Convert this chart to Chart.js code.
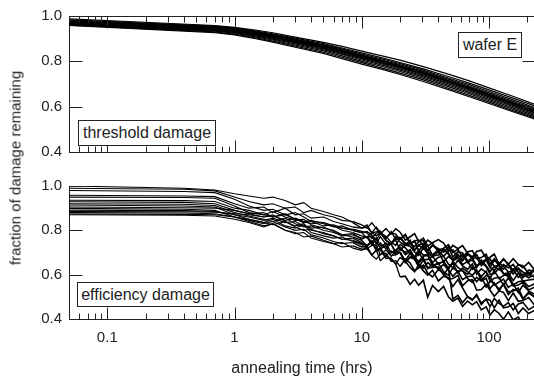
<!DOCTYPE html>
<html>
<head>
<meta charset="utf-8">
<script src="https://cdn.jsdelivr.net/npm/chart.js@4.4.1/dist/chart.umd.min.js"></script>
<style>
  html, body { margin: 0; padding: 0; background: #fff; }
  body { width: 534px; height: 382px; overflow: hidden; position: relative; font-family: 'Liberation Sans', Arial, sans-serif; color: #222; }
  #wrap { position: absolute; left: 0; top: 0; width: 540px; height: 382px; }
  canvas { position: absolute; left: 0; }
  .box { position: absolute; box-sizing: border-box; border: 1px solid #222; background: #fff; font-size: 16px; text-align: center; white-space: nowrap; }
  #ytitle { position: absolute; left: 15px; top: 168px; transform: translate(-50%, -50%) rotate(-90deg); font-size: 15px; white-space: nowrap; }
</style>
</head>
<body>
<div id="wrap">
  <canvas id="c1" width="540" height="170" style="top:0px"></canvas>
  <canvas id="c2" width="540" height="212" style="top:170px"></canvas>
  <div class="box" style="left:78px;top:120px;width:138px;height:26px;line-height:24px;">threshold damage</div>
  <div class="box" style="left:458px;top:32px;width:64px;height:26px;line-height:24px;">wafer E</div>
  <div class="box" style="left:77px;top:282px;width:137px;height:25px;line-height:23px;">efficiency damage</div>
  <div id="ytitle">fraction of damage remaining</div>
</div>
<script>
// ---------- axis settings ----------
const X_MIN = 0.05, X_MAX = 230;
const xTickValues = [0.1, 1, 10, 100];
const yTickValues = [0.4, 0.6, 0.8, 1.0];

// ---------- top panel: threshold damage ----------
const hoursTop = [0.05, 0.7, 1, 1.5, 2, 3, 5, 7, 10, 15, 20, 30, 50, 70, 100, 150, 230];
const thr01 = [0.987,0.958,0.950,0.937,0.926,0.907,0.884,0.866,0.845,0.822,0.805,0.778,0.740,0.714,0.683,0.648,0.610];
const thr02 = [0.983,0.955,0.948,0.933,0.921,0.902,0.878,0.859,0.837,0.813,0.795,0.768,0.730,0.704,0.674,0.640,0.603];
const thr03 = [0.980,0.953,0.945,0.930,0.918,0.898,0.874,0.855,0.832,0.808,0.790,0.762,0.723,0.697,0.667,0.632,0.596];
const thr04 = [0.978,0.951,0.943,0.928,0.916,0.896,0.871,0.851,0.828,0.803,0.785,0.757,0.718,0.691,0.661,0.626,0.590];
const thr05 = [0.976,0.949,0.941,0.926,0.914,0.893,0.868,0.848,0.825,0.800,0.781,0.753,0.713,0.686,0.656,0.621,0.585];
const thr06 = [0.974,0.947,0.939,0.924,0.911,0.891,0.866,0.846,0.823,0.798,0.779,0.751,0.711,0.684,0.653,0.618,0.582];
const thr07 = [0.972,0.945,0.937,0.922,0.910,0.889,0.864,0.844,0.821,0.796,0.777,0.749,0.709,0.681,0.650,0.615,0.579];
const thr08 = [0.970,0.943,0.935,0.920,0.907,0.887,0.862,0.841,0.818,0.793,0.774,0.746,0.706,0.678,0.647,0.612,0.575];
const thr09 = [0.968,0.941,0.932,0.917,0.905,0.884,0.859,0.838,0.815,0.790,0.771,0.742,0.702,0.674,0.643,0.608,0.571];
const thr10 = [0.966,0.938,0.930,0.914,0.902,0.881,0.855,0.834,0.811,0.786,0.766,0.737,0.697,0.669,0.638,0.603,0.566];
const thr11 = [0.964,0.936,0.927,0.911,0.898,0.877,0.851,0.830,0.806,0.781,0.761,0.732,0.691,0.663,0.632,0.597,0.560];
const thr12 = [0.962,0.933,0.924,0.907,0.894,0.872,0.846,0.824,0.800,0.775,0.755,0.726,0.685,0.657,0.626,0.591,0.555];
const thr13 = [0.960,0.930,0.920,0.903,0.889,0.867,0.840,0.818,0.794,0.768,0.748,0.719,0.678,0.650,0.620,0.585,0.550];
const thr14 = [0.958,0.927,0.917,0.899,0.885,0.862,0.835,0.812,0.788,0.762,0.742,0.712,0.672,0.644,0.614,0.580,0.545];
const thresholdSeries = [thr01,thr02,thr03,thr04,thr05,thr06,thr07,thr08,thr09,thr10,thr11,thr12,thr13,thr14];

// ---------- bottom panel: efficiency damage ----------
const hoursBot = [0.05, 0.4, 0.7, 1, 1.3, 1.7, 2, 2.5, 3, 3.5, 4, 5, 6, 7, 8.5, 10,
  11, 12, 13, 14, 15.5, 17, 18.5, 20, 22, 24, 26, 28, 30.5, 33, 36, 40, 44, 48, 52, 57,
  62, 68, 74, 80, 87, 95, 102, 110, 120, 130, 142, 155, 170, 185, 205, 230];
const effA = [1.000,0.990,0.982,0.965,0.955,0.945,0.950,0.935,0.915,0.925,0.900,0.885,0.870,0.860,0.835,0.810,
  0.815,0.789,0.814,0.789,0.764,0.788,0.783,0.758,0.782,0.737,0.752,0.756,0.731,0.756,0.740,0.705,0.720,0.735,0.699,0.714,
  0.679,0.703,0.708,0.673,0.677,0.692,0.647,0.672,0.646,0.671,0.646,0.620,0.645,0.640,0.604,0.629];
const effB = [0.990,0.985,0.978,0.950,0.930,0.915,0.920,0.900,0.905,0.880,0.890,0.870,0.860,0.845,0.840,0.825,
  0.810,0.834,0.809,0.783,0.808,0.782,0.807,0.792,0.756,0.771,0.785,0.750,0.765,0.729,0.744,0.758,0.743,0.707,0.732,0.717,
  0.731,0.696,0.680,0.705,0.710,0.674,0.679,0.693,0.648,0.672,0.647,0.672,0.646,0.631,0.655,0.620];
const effC = [0.980,0.975,0.970,0.940,0.910,0.890,0.895,0.870,0.880,0.860,0.840,0.835,0.820,0.800,0.790,0.775,
  0.769,0.774,0.738,0.772,0.737,0.741,0.755,0.709,0.734,0.728,0.702,0.687,0.721,0.695,0.680,0.704,0.658,0.682,0.667,0.681,
  0.645,0.660,0.624,0.638,0.653,0.637,0.601,0.605,0.630,0.604,0.608,0.573,0.607,0.571,0.576,0.580];
const effD = [0.958,0.955,0.952,0.920,0.900,0.905,0.880,0.900,0.870,0.875,0.855,0.860,0.840,0.830,0.815,0.810,
  0.824,0.788,0.793,0.797,0.761,0.795,0.759,0.763,0.778,0.742,0.726,0.750,0.754,0.708,0.733,0.717,0.701,0.725,0.679,0.703,
  0.698,0.662,0.676,0.690,0.654,0.668,0.633,0.667,0.641,0.625,0.649,0.603,0.628,0.612,0.596,0.620];
const effE = [0.950,0.948,0.945,0.910,0.880,0.870,0.885,0.860,0.845,0.850,0.825,0.810,0.800,0.780,0.770,0.755,
  0.729,0.753,0.747,0.721,0.744,0.698,0.712,0.726,0.690,0.704,0.668,0.702,0.666,0.669,0.683,0.647,0.661,0.625,0.659,0.633,
  0.617,0.601,0.634,0.618,0.592,0.616,0.570,0.584,0.588,0.552,0.586,0.549,0.553,0.567,0.531,0.545];
const effF = [0.936,0.934,0.930,0.900,0.890,0.870,0.860,0.875,0.850,0.840,0.845,0.830,0.815,0.820,0.800,0.790,
  0.795,0.779,0.754,0.788,0.773,0.747,0.732,0.767,0.741,0.746,0.710,0.735,0.740,0.704,0.689,0.713,0.718,0.692,0.667,0.692,
  0.666,0.691,0.675,0.640,0.655,0.669,0.634,0.618,0.653,0.638,0.612,0.617,0.631,0.586,0.610,0.585];
const effG = [0.929,0.926,0.920,0.890,0.875,0.860,0.870,0.840,0.820,0.830,0.800,0.790,0.775,0.760,0.755,0.740,
  0.733,0.746,0.708,0.721,0.684,0.707,0.690,0.702,0.655,0.678,0.671,0.634,0.666,0.629,0.632,0.635,0.598,0.630,0.490,0.507,
  0.474,0.501,0.488,0.505,0.472,0.489,0.456,0.493,0.470,0.457,0.474,0.441,0.468,0.475,0.442,0.459];
const effH = [0.920,0.918,0.912,0.880,0.865,0.850,0.840,0.855,0.830,0.815,0.820,0.800,0.790,0.775,0.780,0.765,
  0.769,0.733,0.767,0.731,0.735,0.739,0.703,0.737,0.721,0.695,0.679,0.713,0.687,0.691,0.655,0.679,0.683,0.647,0.632,0.666,
  0.640,0.624,0.648,0.602,0.626,0.610,0.584,0.618,0.582,0.596,0.600,0.554,0.568,0.572,0.546,0.560];
const effI = [0.914,0.910,0.905,0.870,0.850,0.835,0.850,0.820,0.810,0.825,0.790,0.775,0.765,0.770,0.750,0.735,
  0.718,0.732,0.735,0.689,0.712,0.686,0.689,0.703,0.656,0.680,0.683,0.647,0.630,0.654,0.637,0.651,0.614,0.597,0.631,0.614,
  0.578,0.591,0.595,0.568,0.592,0.545,0.569,0.562,0.526,0.559,0.522,0.526,0.539,0.493,0.516,0.500];
const effJ = [0.905,0.902,0.900,0.890,0.875,0.880,0.860,0.870,0.850,0.835,0.840,0.820,0.825,0.810,0.805,0.795,
  0.789,0.763,0.787,0.791,0.755,0.739,0.773,0.747,0.731,0.755,0.709,0.733,0.717,0.731,0.685,0.689,0.713,0.698,0.662,0.676,
  0.690,0.654,0.668,0.632,0.666,0.640,0.614,0.638,0.642,0.606,0.590,0.624,0.588,0.602,0.586,0.600];
const effK = [0.899,0.895,0.890,0.860,0.840,0.820,0.830,0.800,0.785,0.790,0.765,0.750,0.740,0.725,0.730,0.715,
  0.717,0.689,0.711,0.663,0.685,0.667,0.649,0.590,0.593,0.556,0.579,0.552,0.575,0.498,0.551,0.524,0.547,0.500,0.480,0.494,
  0.457,0.481,0.464,0.478,0.441,0.455,0.418,0.442,0.425,0.399,0.432,0.396,0.409,0.373,0.396,0.380];
const effL = [0.891,0.889,0.885,0.870,0.860,0.845,0.855,0.835,0.840,0.820,0.810,0.815,0.795,0.780,0.785,0.760,
  0.773,0.747,0.720,0.743,0.717,0.740,0.693,0.717,0.700,0.713,0.677,0.660,0.683,0.687,0.640,0.653,0.657,0.630,0.653,0.607,
  0.630,0.613,0.597,0.620,0.573,0.597,0.590,0.553,0.567,0.580,0.543,0.557,0.520,0.553,0.527,0.510];
const effM = [0.885,0.884,0.882,0.875,0.870,0.860,0.865,0.845,0.855,0.840,0.830,0.835,0.820,0.810,0.800,0.790,
  0.765,0.790,0.775,0.789,0.754,0.739,0.764,0.769,0.734,0.739,0.753,0.708,0.733,0.708,0.733,0.708,0.683,0.707,0.712,0.677,
  0.662,0.697,0.672,0.677,0.641,0.666,0.671,0.636,0.621,0.646,0.631,0.646,0.610,0.595,0.620,0.615];
const effN = [0.880,0.878,0.875,0.860,0.845,0.830,0.840,0.815,0.800,0.805,0.780,0.765,0.750,0.740,0.745,0.725,
  0.727,0.688,0.710,0.712,0.673,0.675,0.647,0.678,0.660,0.632,0.613,0.645,0.617,0.598,0.620,0.572,0.593,0.585,0.547,0.578,
  0.540,0.500,0.485,0.510,0.465,0.490,0.485,0.450,0.485,0.450,0.455,0.470,0.425,0.450,0.425,0.440];
const effO = [0.874,0.872,0.870,0.860,0.850,0.835,0.825,0.840,0.815,0.800,0.805,0.785,0.775,0.760,0.765,0.745,
  0.728,0.751,0.714,0.717,0.730,0.683,0.706,0.699,0.663,0.696,0.669,0.652,0.675,0.628,0.651,0.624,0.647,0.620,0.593,0.616,
  0.619,0.582,0.565,0.588,0.571,0.584,0.537,0.561,0.534,0.557,0.510,0.533,0.526,0.489,0.522,0.495];
const effP = [0.870,0.868,0.865,0.850,0.835,0.815,0.830,0.800,0.790,0.770,0.775,0.755,0.740,0.745,0.720,0.710,
  0.723,0.687,0.670,0.693,0.697,0.660,0.663,0.637,0.670,0.653,0.617,0.630,0.643,0.607,0.590,0.623,0.607,0.580,0.583,0.597,
  0.550,0.573,0.577,0.530,0.533,0.557,0.530,0.503,0.527,0.520,0.483,0.517,0.480,0.483,0.497,0.460];
const efficiencySeries = [effA,effB,effC,effD,effE,effF,effG,effH,effI,effJ,effK,effL,effM,effN,effO,effP];

// ---------- chart helpers ----------
Chart.defaults.font.family = "'Liberation Sans', Arial, sans-serif";
Chart.defaults.color = '#222';

const minorTickValues = [];
[0.01, 0.1, 1, 10, 100].forEach(d => { for (let m = 2; m <= 9; m++) { const v = +(d * m).toPrecision(3); if (v >= X_MIN && v <= X_MAX) minorTickValues.push(v); } });

const frameTicks = {
  id: 'frameTicks',
  afterDraw(chart, args, opts) {
    const {ctx, chartArea: a, scales: {x, y}} = chart;
    const topY = Math.round(a.top) + 0.5, botY = Math.floor(a.bottom) + 0.5;
    const leftX = Math.floor(a.left) + 0.5, rightX = Math.round(a.right) - 0.5;
    ctx.save();
    ctx.strokeStyle = '#222';
    ctx.lineWidth = 1;
    ctx.beginPath();
    if (opts.top) { ctx.moveTo(a.left, topY); ctx.lineTo(a.right, topY); }
    const xt = (v, len) => {
      const px = Math.round(x.getPixelForValue(v)) + 0.5;
      ctx.moveTo(px, botY); ctx.lineTo(px, botY - len);
      if (opts.top) { ctx.moveTo(px, topY); ctx.lineTo(px, topY + len); }
    };
    xTickValues.forEach(v => xt(v, 12));
    minorTickValues.forEach(v => xt(v, 6));
    yTickValues.forEach(v => {
      const py = Math.round(y.getPixelForValue(v)) + 0.5;
      ctx.moveTo(leftX, py); ctx.lineTo(leftX + 13, py);
      ctx.moveTo(rightX, py); ctx.lineTo(rightX - 12, py);
    });
    ctx.stroke();
    ctx.restore();
  }
};

function makeDatasets(hours, seriesList, width, lateWidth) {
  return seriesList.map(vals => ({
    data: vals.map((v, i) => ({x: hours[i], y: v})),
    borderColor: '#000',
    borderWidth: width,
    segment: lateWidth ? {borderWidth: c => (c.p0.parsed.x >= 20 ? lateWidth : (c.p0.parsed.x >= 8 ? (width + lateWidth) / 2 : width))} : undefined,
    pointRadius: 0,
    fill: false,
    tension: 0
  }));
}

function makeOptions(showXLabels, xAxisHeight, padTop, drawTop) {
  return {
    responsive: false,
    animation: false,
    layout: {padding: {top: padTop, right: 5, left: 0, bottom: 0}},
    plugins: {legend: {display: false}, tooltip: {enabled: false}, frameTicks: {top: drawTop}},
    scales: {
      x: {
        type: 'logarithmic', min: X_MIN, max: X_MAX, bounds: 'data',
        afterBuildTicks: s => { s.ticks = xTickValues.map(v => ({value: v})); },
        ticks: {display: showXLabels, autoSkip: false, maxRotation: 0, padding: 10, font: {size: 15}, color: '#222', callback: v => String(v)},
        grid: {display: false, drawTicks: false},
        border: {display: true, color: '#222', width: 1},
        title: {display: showXLabels, text: 'annealing time (hrs)', font: {size: 16}, color: '#222', padding: {top: 0, bottom: 4}},
        afterFit: s => { s.height = xAxisHeight; }
      },
      y: {
        type: 'linear', min: 0.4, max: 1.0,
        afterBuildTicks: s => { s.ticks = yTickValues.map(v => ({value: v})); },
        ticks: {padding: 7, font: {size: 15}, color: '#222', callback: v => Number(v).toFixed(1)},
        grid: {display: false, drawTicks: false},
        border: {display: true, color: '#222', width: 1},
        afterFit: s => { s.width = 69; }
      }
    }
  };
}

new Chart(document.getElementById('c1'), {
  type: 'line',
  data: {datasets: makeDatasets(hoursTop, thresholdSeries, 1.2, 0)},
  options: makeOptions(false, 18, 12, true),
  plugins: [frameTicks]
});

new Chart(document.getElementById('c2'), {
  type: 'line',
  data: {datasets: makeDatasets(hoursBot, efficiencySeries, 1.1, 1.6)},
  options: makeOptions(true, 63, 12, false),
  plugins: [frameTicks]
});
</script>
</body>
</html>
